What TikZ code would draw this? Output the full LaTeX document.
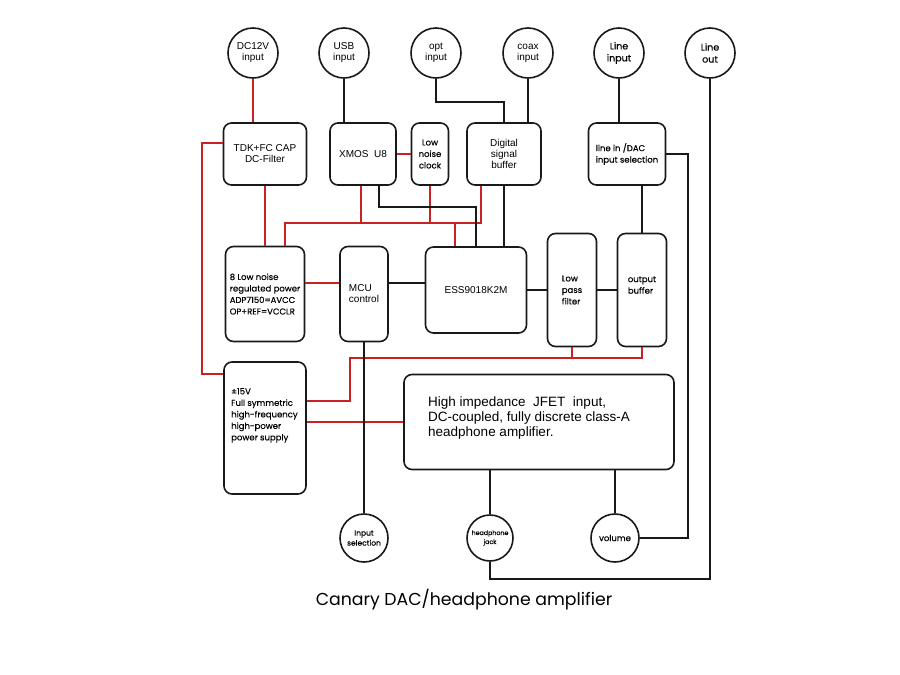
\documentclass[tikz,border=0pt]{standalone}
\usepackage{fontspec}
\setmainfont{Liberation Sans}
\newfontfamily\arialf{Liberation Sans}
\newfontfamily\geo{Poppins}[FakeBold=0.35]
\newfontfamily\geot{Poppins}
\definecolor{pwred}{RGB}{200,35,35}
\definecolor{ink}{RGB}{25,25,25}
\begin{document}
\begin{tikzpicture}[x=1pt,y=-1pt,
  box/.style={draw=ink,line width=1.6pt,rounded corners=8pt,inner sep=1pt},
  port/.style={draw=ink,line width=1.6pt,circle,inner sep=0pt},
  sig/.style={draw=ink,line width=1.4pt},
  pw/.style={draw=pwred,line width=1.4pt},
  af/.style={font=\arialf\fontsize{10}{11}\selectfont,align=center},
  gf/.style={font=\geo\fontsize{8.5}{11.5}\selectfont}]
\useasboundingbox[fill=white] (0,0) rectangle (900,675);

% top ports
\node[port,minimum size=50pt,af] (dc) at (253,53) {DC12V\\input};
\node[port,minimum size=50pt,af] (usb) at (344,53) {USB\\input};
\node[port,minimum size=50pt,af] (opt) at (436,53) {opt\\input};
\node[port,minimum size=50pt,af] (coax) at (528,53) {coax\\input};
\node[port,minimum size=50pt,align=center,font=\geo\fontsize{9.5}{12}\selectfont] (linein) at (619,53) {Line\\input};
\node[port,minimum size=50pt,align=center,font=\geo\fontsize{9.5}{12}\selectfont] (lineout) at (710,53) {Line\\out};

% top boxes
\node[box,minimum width=83pt,minimum height=62pt,af] (tdk) at (265,154) {TDK+FC CAP\\DC-Filter};
\node[box,minimum width=66pt,minimum height=62pt,af] (xmos) at (363,154) {XMOS\ \ U8};
\node[box,minimum width=37pt,minimum height=62pt,gf,align=center] (clk) at (430,154) {Low\\noise\\clock};
\node[box,minimum width=74pt,minimum height=62pt,af] (dsb) at (504,154) {Digital\\signal\\buffer};
\node[box,minimum width=77pt,minimum height=62pt,gf,align=left] (lds) at (627,154) {line in /DAC\\input selection};

% middle boxes
\node[box,minimum width=79pt,minimum height=95pt,gf,align=left] (lnp) at (265,294) {8 Low noise\\regulated power\\ADP7150=AVCC\\OP+REF=VCCLR};
\node[box,minimum width=48pt,minimum height=95pt,af,align=left] (mcu) at (364,294) {MCU\\control};
\node[box,minimum width=101pt,minimum height=86pt,af] (ess) at (476,290) {ESS9018K2M};
\node[box,minimum width=49pt,minimum height=113pt,gf,align=left] (lpf) at (572,290) {Low\\pass\\filter};
\node[box,minimum width=49pt,minimum height=113pt] (obuf) at (642,290) {};
\node[gf,align=left] (obuft) at (642,285) {output\\buffer};

% lower boxes
\node[box,minimum width=82pt,minimum height=132pt] (psu) at (265,428) {};
\node[gf,align=left,anchor=north west,inner sep=0pt] (psut) at (231,388) {±15V\\Full symmetric\\high-frequency\\high-power\\power supply};
\node[box,minimum width=270pt,minimum height=95pt] (hia) at (539,422) {};
\node[font=\arialf\fontsize{13.5}{15}\selectfont,align=left,anchor=north west,inner sep=0pt] (hiat) at (428,397) {High impedance\ \ JFET\ \ input,\\DC-coupled, fully discrete class-A\\headphone amplifier.};

% bottom ports
\node[port,minimum size=48pt,align=center,font=\geo\fontsize{7.5}{10}\selectfont] (insel) at (364,538) {Input\\selection};
\node[port,minimum size=46pt,align=center,font=\geo\fontsize{6.3}{9}\selectfont] (jack) at (490,538) {headphone\\jack};
\node[port,minimum size=48pt,font=\geo\fontsize{8.5}{10}\selectfont] (vol) at (615,538) {volume};

% title
\node[font=\geot\fontsize{17.3}{19}\selectfont] (title) at (464,600) {Canary DAC/headphone amplifier};

% helper coordinates
\coordinate (optk) at (504,102);
\coordinate (lsk) at (688,300);
\coordinate (lok) at (710,579);
\coordinate (pb1) at (285,223);
\coordinate (pb2) at (481,223);
\coordinate (xr) at (361,223);
\coordinate (er) at (455,223);
\coordinate (xb) at (379,207);
\coordinate (xb2) at (476,207);
\coordinate (r283) at (0,283);
\coordinate (rb) at (350,358);
\coordinate (rb2) at (350,401);
\coordinate (tl) at (202,143);
\coordinate (tl2) at (202,374);

% power (red) connectors
\draw[pw] (dc.south) -- (dc.south |- tdk.north);
\draw[pw] (xmos.east) -- (clk.west);
\draw[pw] (tdk.south) -- (tdk.south |- lnp.north);
\draw[pw] (lnp.north -| pb1) -- (pb1) -- (pb2) -- (pb2 |- dsb.south);
\draw[pw] (xr |- xmos.south) -- (xr);
\draw[pw] (clk.south) -- (clk.south |- pb1);
\draw[pw] (er) -- (er |- ess.north);
\draw[pw] (lnp.east |- r283) -- (mcu.west |- r283);
\draw[pw] (obuf.south) -- (obuf.south |- rb) -- (rb) -- (rb2) -- (psu.east |- rb2);
\draw[pw] (lpf.south) -- (lpf.south |- rb);
\draw[pw] (psu.east |- hia.west) -- (hia.west);
\draw[pw] (tdk.west |- tl) -- (tl) -- (tl2) -- (psu.west |- tl2);

% signal (black) connectors
\draw[sig] (usb.south) -- (usb.south |- xmos.north);
\draw[sig] (opt.south) |- (optk) -- (dsb.north);
\draw[sig] (coax.south) -- (coax.south |- dsb.north);
\draw[sig] (linein.south) -- (linein.south |- lds.north);
\draw[sig] (lds.east) -| (lsk) |- (vol.east);
\draw[sig] (lineout.south) -- (lok) -| (jack.south);
\draw[sig] (xb |- xmos.south) -- (xb) -- (xb2) -- (xb2 |- ess.north);
\draw[sig] (dsb.south) -- (dsb.south |- ess.north);
\draw[sig] (mcu.east |- r283) -- (ess.west |- r283);
\draw[sig] (ess.east) -- (lpf.west |- ess.east);
\draw[sig] (lpf.east |- ess.east) -- (obuf.west |- ess.east);
\draw[sig] (obuf.north) -- (obuf.north |- lds.south);
\draw[sig] (mcu.south) -- (insel.north);
\draw[sig] (jack.north |- hia.south) -- (jack.north);
\draw[sig] (vol.north |- hia.south) -- (vol.north);
\end{tikzpicture}
\end{document}
